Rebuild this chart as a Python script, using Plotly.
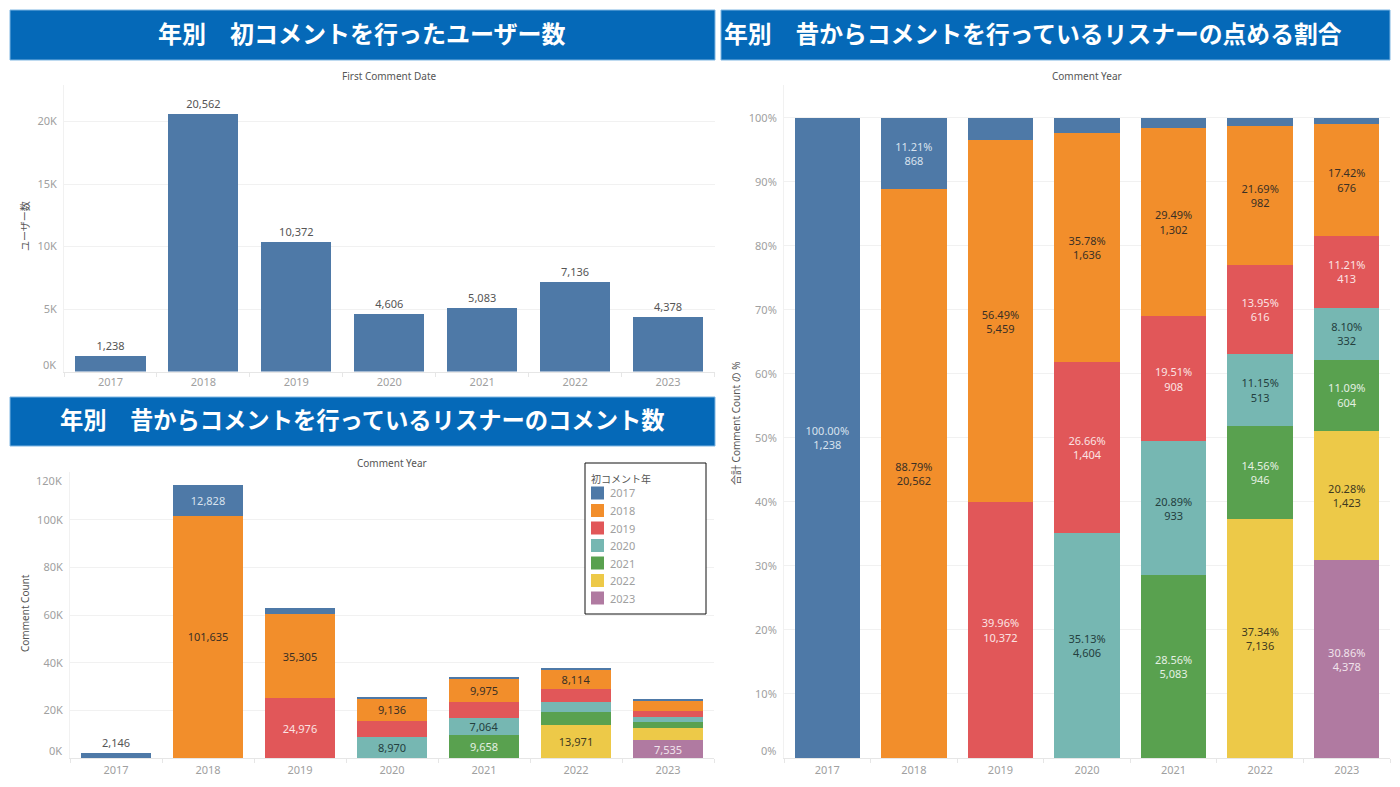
import plotly.graph_objects as go

W, H = 1400, 787
years = ["2017", "2018", "2019", "2020", "2021", "2022", "2023"]
stack_order = ["2023", "2022", "2021", "2020", "2019", "2018", "2017"]

colors = {"2017": "#4E79A7", "2018": "#F28E2B", "2019": "#E15759", "2020": "#76B7B2",
          "2021": "#59A14F", "2022": "#EDC948", "2023": "#B07AA1"}
label_colors = {"2017": "#D8E2EE", "2018": "#3A3025", "2019": "#FBE3E3", "2020": "#24403E",
                "2021": "#E4F0E2", "2022": "#3F3A20", "2023": "#F0E3EC"}

# Chart 1: first-comment users per year
first_users = [1238, 20562, 10372, 4606, 5083, 7136, 4378]
users_ticks = [0, 5000, 10000, 15000, 20000]
users_ticktext = ["", "5K", "10K", "15K", "20K"]

# Chart 2: comment counts per comment year, by first-comment year
count_2017 = [2146, 12828, 2600, 850, 600, 450, 500]
count_2018 = [0, 101635, 35305, 9136, 9975, 8114, 4500]
count_2019 = [0, 0, 24976, 6650, 6800, 5300, 2400]
count_2020 = [0, 0, 0, 8970, 7064, 4200, 2100]
count_2021 = [0, 0, 0, 0, 9658, 5450, 2750]
count_2022 = [0, 0, 0, 0, 0, 13971, 4900]
count_2023 = [0, 0, 0, 0, 0, 0, 7535]
count_shown_2017 = [True, True, False, False, False, False, False]
count_shown_2018 = [False, True, True, True, True, True, False]
count_shown_2019 = [False, False, True, False, False, False, False]
count_shown_2020 = [False, False, False, True, True, False, False]
count_shown_2021 = [False, False, False, False, True, False, False]
count_shown_2022 = [False, False, False, False, False, True, False]
count_shown_2023 = [False, False, False, False, False, False, True]
count_ticks = [0, 20000, 40000, 60000, 80000, 100000, 120000]
count_ticktext = ["", "20K", "40K", "60K", "80K", "100K", ""]

# Chart 3: share per comment year (percent) and listener counts (None = no label drawn)
share_2017 = [100.0, 11.21, 3.55, 2.43, 1.55, 1.31, 1.04]
share_2018 = [0, 88.79, 56.49, 35.78, 29.49, 21.69, 17.42]
share_2019 = [0, 0, 39.96, 26.66, 19.51, 13.95, 11.21]
share_2020 = [0, 0, 0, 35.13, 20.89, 11.15, 8.10]
share_2021 = [0, 0, 0, 0, 28.56, 14.56, 11.09]
share_2022 = [0, 0, 0, 0, 0, 37.34, 20.28]
share_2023 = [0, 0, 0, 0, 0, 0, 30.86]
listeners_2017 = [1238, 868, None, None, None, None, None]
listeners_2018 = [None, 20562, 5459, 1636, 1302, 982, 676]
listeners_2019 = [None, None, 10372, 1404, 908, 616, 413]
listeners_2020 = [None, None, None, 4606, 933, 513, 332]
listeners_2021 = [None, None, None, None, 5083, 946, 604]
listeners_2022 = [None, None, None, None, None, 7136, 1423]
listeners_2023 = [None, None, None, None, None, None, 4378]
share_ticks = [0, 10, 20, 30, 40, 50, 60, 70, 80, 90, 100]
share_ticktext = ["", "10%", "20%", "30%", "40%", "50%", "60%", "70%", "80%", "90%", "100%"]

counts = {"2017": count_2017, "2018": count_2018, "2019": count_2019, "2020": count_2020,
          "2021": count_2021, "2022": count_2022, "2023": count_2023}
count_shown = {"2017": count_shown_2017, "2018": count_shown_2018, "2019": count_shown_2019,
               "2020": count_shown_2020, "2021": count_shown_2021, "2022": count_shown_2022,
               "2023": count_shown_2023}
shares = {"2017": share_2017, "2018": share_2018, "2019": share_2019, "2020": share_2020,
          "2021": share_2021, "2022": share_2022, "2023": share_2023}
listeners = {"2017": listeners_2017, "2018": listeners_2018, "2019": listeners_2019,
             "2020": listeners_2020, "2021": listeners_2021, "2022": listeners_2022,
             "2023": listeners_2023}

titles = ["年別　初コメントを行ったユーザー数",
          "年別　昔からコメントを行っているリスナーのコメント数",
          "年別　昔からコメントを行っているリスナーの点める割合"]

FONT = "Noto Sans, Noto Sans CJK JP, sans-serif"
CJK = "Noto Sans CJK JP, sans-serif"
GRID = "#F1F1F1"
TICK = "#A0A0A0"
DARK = "#555555"


def px(x):
    return x / W


def py(y):
    return 1 - y / H


fig = go.Figure()

fig.add_trace(go.Bar(x=years, y=first_users, xaxis="x", yaxis="y", marker_color=colors["2017"],
                     marker_line_width=0, text=[f"{v:,}" for v in first_users],
                     textposition="outside", textfont=dict(size=11, color=DARK),
                     cliponaxis=False, showlegend=False, hoverinfo="x+y"))

for yr in stack_order:
    positions = ["outside" if (yr == "2017" and i == 0) else "inside" for i in range(7)]
    fonts = [DARK if (yr == "2017" and i == 0) else label_colors[yr] for i in range(7)]
    text = [f"{v:,}" if s else "" for v, s in zip(counts[yr], count_shown[yr])]
    fig.add_trace(go.Bar(x=years, y=counts[yr], name=yr, xaxis="x2", yaxis="y2",
                         marker_color=colors[yr], marker_line_width=0, text=text,
                         textposition=positions, insidetextanchor="middle", textangle=0,
                         constraintext="none", textfont=dict(size=11, color=fonts),
                         cliponaxis=False, showlegend=False))

for yr in stack_order:
    text = [f"{p:.2f}%<br>{c:,}" if c is not None else "" for p, c in zip(shares[yr], listeners[yr])]
    fig.add_trace(go.Bar(x=years, y=shares[yr], name=yr, xaxis="x3", yaxis="y3",
                         marker_color=colors[yr], marker_line_width=0, text=text,
                         textposition="inside", insidetextanchor="middle", textangle=0,
                         constraintext="none", textfont=dict(size=11, color=label_colors[yr]),
                         showlegend=False))


def x_axis(anchor, left, right, standoff=0):
    return dict(domain=[px(left), px(right)], anchor=anchor, type="category",
                categoryorder="array", categoryarray=years, range=[-0.5, 6.5],
                tickson="boundaries", ticks="outside", ticklen=4, tickcolor="#E6E6E6",
                ticklabelstandoff=standoff,
                showgrid=False, showline=True, linecolor="#E6E6E6", linewidth=1, zeroline=False,
                tickfont=dict(size=11, color=TICK, family=FONT))


def y_axis(anchor, top, bottom, rng, ticks, ticktext):
    return dict(domain=[py(bottom), py(top)], anchor=anchor, range=rng, tickmode="array",
                tickvals=ticks, ticktext=ticktext, ticks="", showgrid=True, gridcolor=GRID,
                gridwidth=1, zeroline=False, showline=True, linecolor=GRID, linewidth=1,
                ticklabelstandoff=4, tickfont=dict(size=11, color=TICK, family=FONT))


shapes = []
annotations = []

banners = [(10, 715, 10, 60, 362, 24), (10, 715, 397, 446, 362, 23.3), (721, 1390, 10, 60, 1033, 23.8)]
for (x0, x1, y0, y1, xc, fs), title in zip(banners, titles):
    shapes.append(dict(type="rect", xref="paper", yref="paper", x0=px(x0), x1=px(x1), y0=py(y1), y1=py(y0),
                       fillcolor="#0569B8", line=dict(color="#7FB6E2", width=1), layer="below"))
    annotations.append(dict(xref="paper", yref="paper", x=px(xc), y=py((y0 + y1) / 2 - 3),
                            text=f"<b>{title}</b>", showarrow=False, xanchor="center", yanchor="middle",
                            font=dict(size=fs, color="white", family=CJK)))

for x, y, t in [(389, 76, "First Comment Date"), (392, 463, "Comment Year"), (1087, 76, "Comment Year")]:
    annotations.append(dict(xref="paper", yref="paper", x=px(x), y=py(y), text=t, showarrow=False,
                            xanchor="center", yanchor="middle", font=dict(size=10, color=DARK, family=FONT)))

for x, y, t in [(25, 226, "ユーザー数"), (25, 613, "Comment Count"), (736, 423, "合計 Comment Count の %")]:
    annotations.append(dict(xref="paper", yref="paper", x=px(x), y=py(y), text=t, showarrow=False, textangle=-90,
                            xanchor="center", yanchor="middle", font=dict(size=10, color=DARK, family=FONT)))

# End-of-axis tick labels sit inside the plot height, offset from their gridlines
for yref, val, x, t, shift in [("y", 0, 58, "0K", 7), ("y2", 0, 63.5, "0K", 8), ("y2", 120000, 63.5, "120K", -8),
                               ("y3", 0, 778, "0%", 8)]:
    annotations.append(dict(xref="paper", yref=yref, x=px(x), y=val, yshift=shift, text=t, showarrow=False,
                            xanchor="right", yanchor="middle",
                            font=dict(size=11, color=TICK, family=FONT)))

# Legend box
shapes.append(dict(type="rect", xref="paper", yref="paper", x0=px(585), x1=px(706), y0=py(614), y1=py(463),
                   fillcolor="white", line=dict(color="#111111", width=1), layer="above"))
annotations.append(dict(xref="paper", yref="paper", x=px(589), y=py(478), text="初コメント年", showarrow=False,
                        xanchor="left", yanchor="middle", font=dict(size=10, color=DARK, family=CJK)))
for i, yr in enumerate(years):
    yc = 493 + i * 17.5
    shapes.append(dict(type="rect", xref="paper", yref="paper", x0=px(591), x1=px(604), y0=py(yc + 6.5), y1=py(yc - 6.5),
                       fillcolor=colors[yr], line=dict(width=0), layer="above"))
    annotations.append(dict(xref="paper", yref="paper", x=px(608), y=py(yc), text=yr, showarrow=False,
                            xanchor="left", yanchor="middle", font=dict(size=11, color=TICK, family=FONT)))

fig.update_layout(
    width=W, height=H, autosize=False, margin=dict(l=0, r=0, t=0, b=0),
    paper_bgcolor="white", plot_bgcolor="white", barmode="stack", bargap=0.245,
    showlegend=False, font=dict(family=FONT),
    xaxis=x_axis("y", 64, 714.5),
    yaxis=y_axis("x", 85, 371.5, [0, 22920], users_ticks, users_ticktext),
    xaxis2=x_axis("y2", 70, 714, 2),
    yaxis2=y_axis("x2", 472, 758, [0, 120000], count_ticks, count_ticktext),
    xaxis3=x_axis("y3", 784, 1390, 2),
    yaxis3=y_axis("x3", 85, 758, [0, 105.1], share_ticks, share_ticktext),
    shapes=shapes, annotations=annotations,
)

fig.write_html("out.html", config={"displayModeBar": False},
               post_script="document.body.style.margin='0';document.body.style.overflow='hidden';")
